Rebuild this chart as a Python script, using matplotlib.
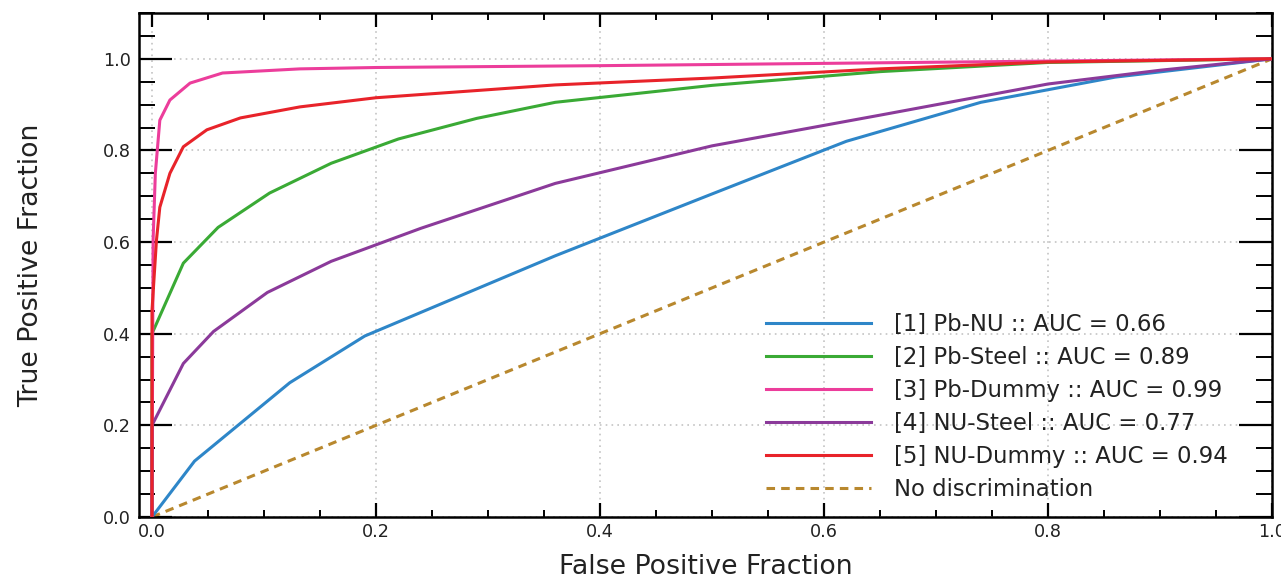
import matplotlib
matplotlib.use("Agg")
import matplotlib.pyplot as plt
from matplotlib.ticker import MultipleLocator

# ---- data ----
labels = [
    "[1] Pb-NU :: AUC = 0.66",
    "[2] Pb-Steel :: AUC = 0.89",
    "[3] Pb-Dummy :: AUC = 0.99",
    "[4] NU-Steel :: AUC = 0.77",
    "[5] NU-Dummy :: AUC = 0.94",
]
colors = ["#2e86c8", "#3aaa35", "#ec3d9b", "#8b3a9a", "#e8232a"]

fpr_pb_nu = [0, 0.038, 0.123, 0.19, 0.36, 0.5, 0.62, 0.74, 0.86, 1.0]
tpr_pb_nu = [0, 0.122, 0.293, 0.395, 0.570, 0.705, 0.82, 0.905, 0.96, 1.0]

fpr_pb_steel = [0, 0, 0.028, 0.059, 0.105, 0.16, 0.22, 0.29, 0.36, 0.5, 0.65, 0.8, 1.0]
tpr_pb_steel = [0, 0.40, 0.554, 0.632, 0.707, 0.772, 0.825, 0.87, 0.905, 0.942, 0.972, 0.992, 1.0]

fpr_pb_dummy = [0, 0.001, 0.003, 0.007, 0.016, 0.034, 0.063, 0.132, 0.2, 0.4, 0.6, 0.8, 1.0]
tpr_pb_dummy = [0, 0.604, 0.75, 0.866, 0.91, 0.947, 0.969, 0.978, 0.981, 0.985, 0.99, 0.995, 1.0]

fpr_nu_steel = [0, 0, 0.028, 0.055, 0.103, 0.16, 0.24, 0.36, 0.5, 0.65, 0.8, 0.9, 1.0]
tpr_nu_steel = [0, 0.20, 0.335, 0.405, 0.49, 0.558, 0.63, 0.728, 0.81, 0.877, 0.945, 0.975, 1.0]

fpr_nu_dummy = [0, 0, 0.004, 0.007, 0.016, 0.028, 0.049, 0.079, 0.132, 0.2, 0.36, 0.5, 0.65, 0.8, 1.0]
tpr_nu_dummy = [0, 0.45, 0.604, 0.676, 0.75, 0.808, 0.845, 0.871, 0.895, 0.915, 0.943, 0.958, 0.978, 0.993, 1.0]

diag_x = [0, 1]
diag_y = [0, 1]

series = [
    (fpr_pb_nu, tpr_pb_nu),
    (fpr_pb_steel, tpr_pb_steel),
    (fpr_pb_dummy, tpr_pb_dummy),
    (fpr_nu_steel, tpr_nu_steel),
    (fpr_nu_dummy, tpr_nu_dummy),
]

plt.rcParams["font.family"] = ["DejaVu Sans"]
text_color = "#222222"

fig = plt.figure(figsize=(12.81, 5.82), dpi=100)
ax = fig.add_axes([0.1085, 0.1117, 0.9930 - 0.1085, 0.9777 - 0.1117])

for (x, y), lab, c in zip(series, labels, colors):
    ax.plot(x, y, color=c, lw=2.2, label=lab, zorder=3)
ax.plot(diag_x, diag_y, color="#b8882e", lw=2.2, linestyle=(0, (2.8, 2.0)),
        label="No discrimination", zorder=2)

ax.set_xlim(-0.0116, 1.0)
ax.set_ylim(0.0, 1.1)

ax.xaxis.set_major_locator(MultipleLocator(0.2))
ax.xaxis.set_minor_locator(MultipleLocator(0.05))
ax.yaxis.set_major_locator(MultipleLocator(0.2))
ax.yaxis.set_minor_locator(MultipleLocator(0.05))
ax.set_yticks([0.0, 0.2, 0.4, 0.6, 0.8, 1.0])
ax.set_xticks([0.0, 0.2, 0.4, 0.6, 0.8, 1.0])

ax.tick_params(axis="x", which="major", direction="in", length=10, width=1.6,
               top=True, bottom=True, labelsize=12.7, pad=4, labelcolor=text_color)
ax.tick_params(axis="x", which="minor", direction="in", length=5, width=1.4,
               top=True, bottom=True)
ax.tick_params(axis="y", which="major", direction="in", length=24, width=1.6,
               left=True, right=True, labelsize=12.7, pad=6, labelcolor=text_color)
ax.tick_params(axis="y", which="minor", direction="in", length=11.5, width=1.4,
               left=True, right=True)

for s in ax.spines.values():
    s.set_linewidth(1.8)

ax.grid(True, which="major", color="#c4c4c4", linestyle=(0, (1, 2.5)), lw=1.2)
ax.set_axisbelow(True)

ax.set_xlabel("False Positive Fraction", fontsize=19.3, color=text_color, labelpad=10)
ax.set_ylabel("True Positive Fraction", fontsize=19.3, color=text_color, labelpad=42)

leg = ax.legend(loc="lower right", frameon=False, fontsize=16.4, handlelength=4.6,
                handletextpad=1.0, labelspacing=0.44, borderaxespad=0.3,
                bbox_to_anchor=(0.975, 0.0))
for t in leg.get_texts():
    t.set_color(text_color)

fig.savefig("out.png", dpi=100)
